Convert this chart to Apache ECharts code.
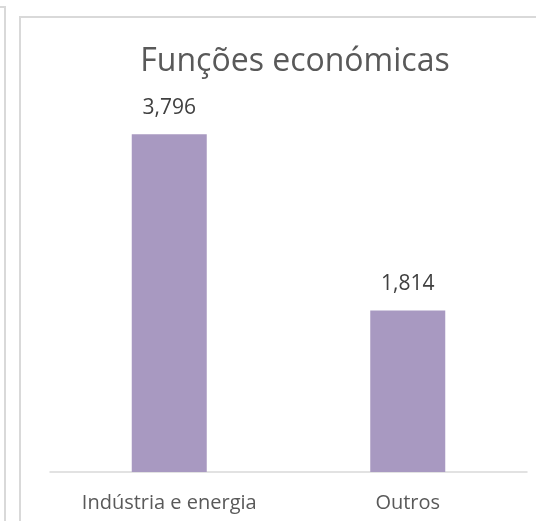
<!DOCTYPE html>
<html>
<head>
<meta charset="utf-8">
<script src="https://cdn.jsdelivr.net/npm/echarts@6/dist/echarts.min.js"></script>
<style>
  html, body { margin: 0; padding: 0; background: #fff; }
  #chart { width: 536px; height: 521px; }
</style>
</head>
<body>
<div id="chart"></div>
<script>
// dados do gráfico
const categories = ['Indústria e energia', 'Outros']
const values = [3796, 1814]
const titleText = 'Funções económicas'

const chart = echarts.init(document.getElementById('chart'))
chart.setOption({
  animation: false,
  textStyle: { fontFamily: 'Open Sans, sans-serif' },
  title: {
    text: titleText,
    left: 290,
    top: 41,
    textAlign: 'center',
    textStyle: { fontSize: 32, fontWeight: 'normal', color: '#595959', fontFamily: 'Open Sans, sans-serif' }
  },
  graphic: [
    // borda do gráfico vizinho
    { type: 'polyline', shape: { points: [[0, 7], [5, 7], [5, 521]] }, style: { stroke: '#d9d9d9', lineWidth: 2, fill: null } },
    // borda deste gráfico
    { type: 'polyline', shape: { points: [[20, 521], [20, 17], [536, 17]] }, style: { stroke: '#d9d9d9', lineWidth: 2, fill: null } }
  ],
  grid: { left: 50, right: 9, top: 116, bottom: 49 },
  xAxis: {
    type: 'category',
    data: categories,
    axisLine: { lineStyle: { color: '#d9d9d9', width: 1.5 } },
    axisTick: { show: false },
    axisLabel: { color: '#595959', fontSize: 20, margin: 21 }
  },
  yAxis: {
    type: 'value',
    min: 0,
    max: 4000,
    show: false,
    splitLine: { show: false }
  },
  series: [{
    type: 'bar',
    data: values,
    barWidth: 75,
    itemStyle: { color: '#a899c1' },
    label: {
      show: true,
      position: 'top',
      distance: 16,
      color: '#404040',
      fontSize: 21,
      formatter: p => p.value.toLocaleString('en-US')
    }
  }]
})
</script>
</body>
</html>
